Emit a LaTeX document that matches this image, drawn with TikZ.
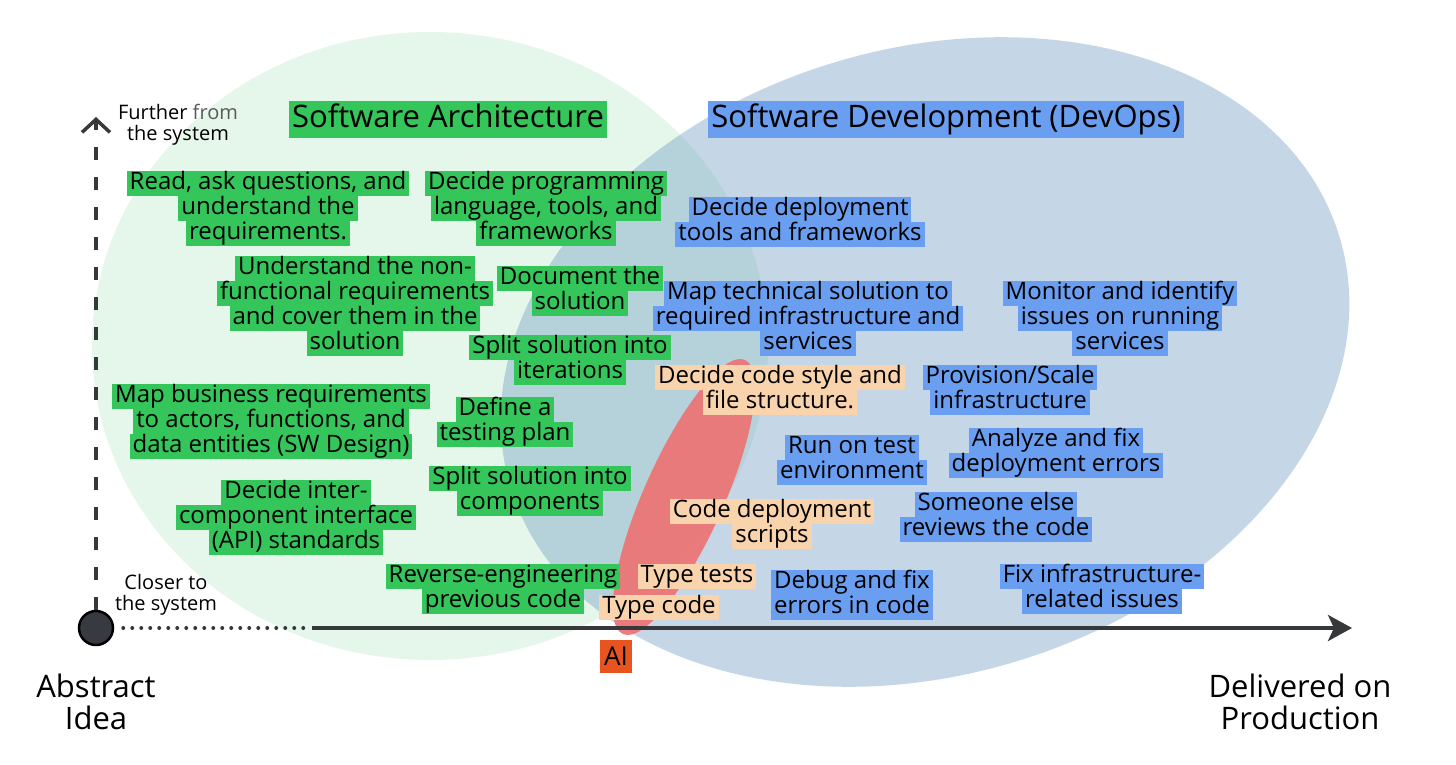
\documentclass[tikz,border=0pt]{standalone}
\usepackage{fontspec}
\setmainfont{Open Sans}
\usetikzlibrary{arrows.meta}
\definecolor{tgreen}{HTML}{34C65A}
\definecolor{tblue}{HTML}{6A9EF0}
\definecolor{tpeach}{HTML}{F9D3AC}
\definecolor{bggreen}{HTML}{E5F7EA}
\definecolor{bgblue}{RGB}{110,155,195}
\definecolor{redai}{HTML}{EE7373}
\definecolor{aibox}{HTML}{E8541F}
\definecolor{axisgray}{HTML}{35393B}
\definecolor{origfill}{HTML}{373B41}
\newcommand{\tagblock}[5]{\foreach \txt [count=\i from 0] in {#5} {\node[#2] (#1-\i) at (#3,{#4+25*\i}) {\txt};}}
\begin{document}
\begin{tikzpicture}[x=1pt,y=-1pt,
  tagbase/.style={inner xsep=3pt, inner ysep=1pt, text height=17.5pt, text depth=5.5pt,
    font=\fontsize{24}{25}\selectfont, anchor=center},
  gtag/.style={tagbase, fill=tgreen},
  btag/.style={tagbase, fill=tblue},
  ptag/.style={tagbase, fill=tpeach},
  titlebox/.style={inner xsep=3pt, inner ysep=2.5pt, text height=24pt, text depth=8pt,
    font=\fontsize{31}{32}\selectfont},
  smalllabel/.style={align=center, font=\fontsize{20}{21}\selectfont},
  biglabel/.style={align=center, font=\fontsize{31}{32}\selectfont},
  axisline/.style={draw=axisgray, line width=4pt},
  dotline/.style={draw=axisgray, line width=4pt, line cap=round, dash pattern=on 0pt off 9pt},
  dashline/.style={draw=axisgray, line width=3.5pt, dash pattern=on 13pt off 17pt}
]
\useasboundingbox (0,0) rectangle (1456,764);
\fill[white] (0,0) rectangle (1456,764);

% regions
\fill[bggreen] (430,346) ellipse [x radius=338, y radius=314];
\fill[bgblue, fill opacity=0.4, rotate around={16.8:(925,362)}] (925,362) ellipse [x radius=433, y radius=313];
\fill[redai, fill opacity=0.92, rotate around={66:(684,497)}] (684,497) ellipse [x radius=150, y radius=40];

% axes
\node[circle, fill=origfill, draw=black, line width=2.5pt, minimum size=34pt, inner sep=0pt] (origin) at (96,628) {};
\coordinate (ytop) at (96,117);
\coordinate (xdot) at (305,628);
\coordinate (xstart) at (312,628);
\coordinate (xtip) at (1352,628);
\draw[dashline, -{Straight Barb[length=13pt, width=28pt]}] (origin.north) -- (ytop);
\draw[dotline] (origin.east) ++(9,0) -- (xdot);
\draw[axisline, -{Stealth[length=24pt, width=26pt, inset=6pt]}] (xstart) -- (xtip);

% titles
\node[titlebox, fill=tgreen] (tarch) at (448,119.5) {Software Architecture};
\node[titlebox, fill=tblue] (tdev) at (946,119.5) {Software Development (DevOps)};

% green
\tagblock{ra}{gtag}{268}{183}{{Read, ask questions, and},{understand the},{requirements.}}
\tagblock{dp}{gtag}{546}{183}{{Decide programming},{language, tools, and},{frameworks}}
\tagblock{un}{gtag}{355}{268}{{Understand the non-},{functional requirements},{and cover them in the},{solution}}
\tagblock{ds}{gtag}{580}{278}{{Document the},{solution}}
\tagblock{si}{gtag}{570}{347}{{Split solution into},{iterations}}
\tagblock{mb}{gtag}{271}{396}{{Map business requirements},{to actors, functions, and},{data entities (SW Design)}}
\tagblock{dt}{gtag}{505}{409}{{Define a},{testing plan}}
\tagblock{sc}{gtag}{530}{478}{{Split solution into},{components}}
\tagblock{di}{gtag}{296}{492}{{Decide inter-},{component interface},{(API) standards}}
\tagblock{re}{gtag}{503}{576}{{Reverse-engineering},{previous code}}

% blue
\tagblock{dd}{btag}{800}{209}{{Decide deployment},{tools and frameworks}}
\tagblock{mt}{btag}{808}{293}{{Map technical solution to},{required infrastructure and},{services}}
\tagblock{mi}{btag}{1120}{293}{{Monitor and identify},{issues on running},{services}}
\tagblock{ps}{btag}{1010}{377}{{Provision/Scale},{infrastructure}}
\tagblock{rt}{btag}{852}{447}{{Run on test},{environment}}
\tagblock{af}{btag}{1056}{440}{{Analyze and fix},{deployment errors}}
\tagblock{se}{btag}{996}{504}{{Someone else},{reviews the code}}
\tagblock{df}{btag}{852}{582}{{Debug and fix},{errors in code}}
\tagblock{fi}{btag}{1102}{576}{{Fix infrastructure-},{related issues}}

% peach
\tagblock{cs}{ptag}{780}{377}{{Decide code style and},{file structure.}}
\tagblock{cd}{ptag}{772}{511}{{Code deployment},{scripts}}
\tagblock{tt}{ptag}{697}{576}{{Type tests}}
\tagblock{tc}{ptag}{659}{607}{{Type code}}

% AI
\node[fill=aibox, minimum width=32pt, minimum height=33pt, inner sep=0pt, font=\fontsize{26}{26}\selectfont] (ai) at (616,656) {AI};

% axis labels
\node[smalllabel] (further) at (178,125) {Further {\color{black!65}from}\\the system};
\node[smalllabel] (closer) at (166,595) {Closer to\\the system};
\node[biglabel] (abstract) at (96,702) {Abstract\\Idea};
\node[biglabel] (delivered) at (1300,702) {Delivered on\\Production};
\end{tikzpicture}
\end{document}
